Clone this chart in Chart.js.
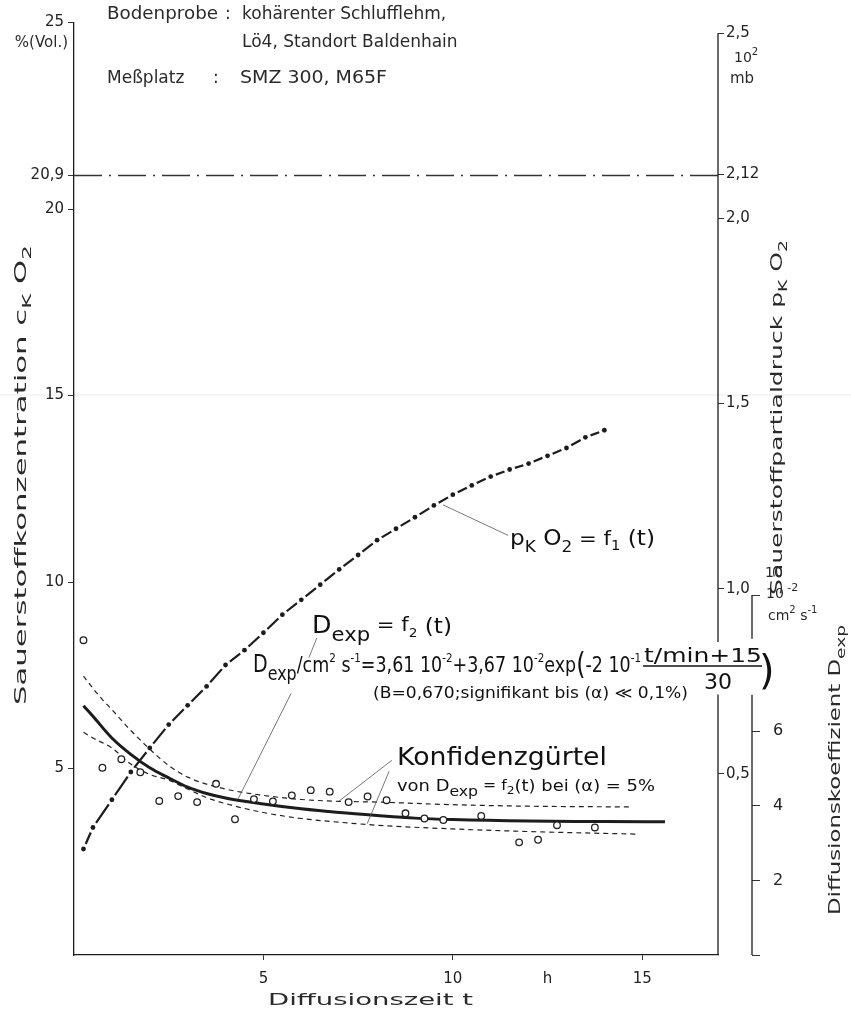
<!DOCTYPE html>
<html>
<head>
<meta charset="utf-8">
<script src="https://cdn.jsdelivr.net/npm/chart.js@4.4.1/dist/chart.umd.min.js"></script>
<style>
html,body{margin:0;padding:0;background:#fff}
</style>
</head>
<body>
<canvas id="grafico" width="851" height="1010"></canvas>
<script>
// Diffusionszeit t in h
const tMin=0, tMax=17;
// Sauerstoffpartialdruck pK O2 (10^2 mb)
const zeitP=[0.25,0.5,1,1.5,2,2.5,3,3.5,4,4.5,5,5.5,6,6.5,7,7.5,8,8.5,9,9.5,10,10.5,11,11.5,12,12.5,13,13.5,14];
const druckP=[0.297,0.355,0.430,0.505,0.570,0.633,0.685,0.736,0.794,0.834,0.881,0.930,0.970,1.011,1.052,1.091,1.131,1.162,1.193,1.225,1.254,1.279,1.303,1.322,1.338,1.359,1.380,1.409,1.428];
// Diffusionskoeffizient Dexp, Messwerte (10^-2 cm2 s-1)
const zeitD=[0.25,0.75,1.25,1.75,2.25,2.75,3.25,3.75,4.25,4.75,5.25,5.75,6.25,6.75,7.25,7.75,8.25,8.75,9.25,9.75,10.75,11.75,12.25,12.75,13.75];
const diffD=[8.44,5.02,5.25,4.90,4.13,4.26,4.10,4.59,3.64,4.18,4.12,4.28,4.42,4.38,4.10,4.25,4.15,3.80,3.66,3.62,3.73,3.02,3.09,3.48,3.42];
// Ausgleichskurve Dexp = f2(t)
const zeitFit=[0.25,0.5,1,1.5,2,2.5,3,3.5,4,5,6,7,8,9,10,12,14,15.6];
const diffFit=[6.68,6.40,5.82,5.38,5.02,4.75,4.50,4.33,4.21,4.05,3.92,3.82,3.74,3.67,3.63,3.59,3.58,3.57];
// Konfidenzguertel
const zeitOben=[0.25,0.5,0.75,1,1.5,2,2.5,3,4,5,6,7,8,10,12,14.7];
const diffOben=[7.48,7.15,6.85,6.58,6.02,5.52,5.08,4.77,4.45,4.28,4.17,4.12,4.10,4.03,3.99,3.97];
const zeitUnten=[0.25,0.5,1,1.5,2,2.5,3,3.5,4,5,6,7,8,10,12,14.9];
const diffUnten=[5.97,5.82,5.55,5.12,4.84,4.69,4.45,4.22,4.06,3.82,3.66,3.56,3.48,3.38,3.31,3.24];
// Luftsauerstoff
const o2Luft=20.9;
// Achsen
const ticksC=[5,10,15,20,20.9,25];
const ticksP=[0.5,1.0,1.5,2.0,2.12,2.5];
const ticksD=[0,2,4,6,9.65];
const ticksT=[5,10,12.5,15];

const fuente='"DejaVu Sans", sans-serif';
const tinta='#1c1c1c';

function puntos(xs,ys){ return xs.map((x,i)=>({x:x,y:ys[i]})); }
function coma(v){ return String(v).replace('.',','); }

// Strich zwischen zwei Punkten (Strich-Punkt-Linie)
const luecke=5.5;
function largo(c){ return Math.hypot(c.p1.x-c.p0.x, c.p1.y-c.p0.y); }
const strichPunkt={
  borderDash: c=>[Math.max(largo(c)-2*luecke,1),1000],
  borderDashOffset: c=>Math.max(largo(c)-2*luecke,1)+1000-luecke+c.p0DataIndex*1e-6
};

// Text mit Indizes; partes: [text, groesse, dy]
function rico(ctx,x,y,partes,ancho,rot){
  ctx.save();
  ctx.translate(x,y);
  if(rot) ctx.rotate(-Math.PI/2);
  let total=0;
  partes.forEach(p=>{ ctx.font=p[1]+'px '+fuente; total+=ctx.measureText(p[0]).width; });
  if(ancho) ctx.scale(ancho/total,1);
  let cx=0;
  partes.forEach(p=>{
    ctx.font=p[1]+'px '+fuente;
    ctx.fillText(p[0],cx,p[2]||0);
    cx+=ctx.measureText(p[0]).width;
  });
  ctx.restore();
}

const beschriftung={
  id:'beschriftung',
  beforeDraw(chart){
    const ctx=chart.ctx;
    ctx.save();
    ctx.fillStyle='#fff';
    ctx.fillRect(0,0,chart.width,chart.height);
    ctx.restore();
  },
  afterDraw(chart){
    const ctx=chart.ctx, sx=chart.scales.x, sy=chart.scales.y, sp=chart.scales.yP, sd=chart.scales.yD;
    const X=v=>sx.getPixelForValue(v), Y=v=>sy.getPixelForValue(v);
    ctx.save();
    ctx.strokeStyle=tinta; ctx.fillStyle=tinta;
    ctx.textBaseline='alphabetic'; ctx.textAlign='left';

    // Achsenlinien rechts
    ctx.lineWidth=1.3;
    const xp=sp.left, xd=sd.left;
    ctx.beginPath();
    ctx.moveTo(xp,sp.getPixelForValue(2.5)); ctx.lineTo(xp,sp.getPixelForValue(0.856));
    ctx.moveTo(xp,sp.getPixelForValue(0.714)); ctx.lineTo(xp,chart.chartArea.bottom);
    ctx.moveTo(xd,sd.getPixelForValue(9.65)); ctx.lineTo(xd,sd.getPixelForValue(8.48));
    ctx.moveTo(xd,sd.getPixelForValue(6.98)); ctx.lineTo(xd,sd.getPixelForValue(0));
    ctx.stroke();

    // Hinweislinien
    ctx.lineWidth=0.8; ctx.strokeStyle='#555';
    const hin=[[9.74,12.07,11.46,11.25],[6.41,8.50,6.20,7.97],[5.73,7.01,4.33,4.18],[8.39,5.22,7.0,4.13],[8.32,4.93,7.74,3.52]];
    hin.forEach(h=>{ ctx.beginPath(); ctx.moveTo(X(h[0]),Y(h[1])); ctx.lineTo(X(h[2]),Y(h[3])); ctx.stroke(); });

    // Kopf
    ctx.fillStyle='#2a2a2a';
    rico(ctx,107,19,[['Bodenprobe',17]],111);
    rico(ctx,225,19,[[':',17]]);
    rico(ctx,242,19,[['kohärenter Schlufflehm,',17]]);
    rico(ctx,242,47,[['Lö4, Standort Baldenhain',17]]);
    rico(ctx,107,83,[['Meßplatz',17]]);
    rico(ctx,213,83,[[':',17]]);
    rico(ctx,240,83,[['SMZ 300, M65F',17]],147);

    // Einheiten
    ctx.textAlign='right';
    ctx.font='15px '+fuente;
    ctx.fillText('%(Vol.)',68,47);
    ctx.textAlign='left';
    rico(ctx,734,62,[['10',14],['2',10,-7]]);
    rico(ctx,730,83,[['mb',15]]);
    rico(ctx,765,577,[['10',14]]);
    rico(ctx,766,598,[['10',14],[' -2',11,-7]]);
    rico(ctx,768,620,[['cm',14],['2',10,-7],[' s',14],['-1',10,-7]]);

    // Achsentitel
    rico(ctx,26,705,[['Sauerstoffkonzentration c',16],['K',12,5],[' O',16],['2',12,5]],460,true);
    rico(ctx,782,595,[['Sauerstoffpartialdruck p',16],['K',12,5],[' O',16],['2',12,5]],355,true);
    rico(ctx,840,915,[['Diffusionskoeffizient D',16],['exp',13,5]],290,true);
    rico(ctx,268,1005,[['Diffusionszeit t',16]],205);

    // Kurvenbeschriftung
    ctx.fillStyle='#111';
    rico(ctx,510,545,[['p',22],['K',16,7],[' O',22],['2',16,7],[' = f',20],['1',14,5],[' (t)',22]],145);
    rico(ctx,312,633,[['D',24],['exp',20,8],[' = f',20,-2],['2',13,4],[' (t)',22]],140);
    rico(ctx,253,672,[['D',24],['exp',20,8],['/cm',22],['2',13,-10],[' s',22],['-1',13,-10],['=3,61 10',22],['-2',13,-10],['+3,67 10',22],['-2',13,-10],['exp',22],['(',30,2],['-2 10',22],['-1',13,-10]],388);
    rico(ctx,644,662,[['t/min+15',20]],118);
    ctx.lineWidth=1.5; ctx.strokeStyle='#111';
    ctx.beginPath(); ctx.moveTo(643,666); ctx.lineTo(762,666); ctx.stroke();
    rico(ctx,704,689,[['30',22]],28);
    rico(ctx,759,684,[[')',40]]);
    rico(ctx,373,698,[['(B=0,670;signifikant bis (α) ≪ 0,1%)',15]],315);
    rico(ctx,397,765,[['Konfidenzgürtel',25]],210);
    rico(ctx,397,791,[['von D',16],['exp',14,5],[' = f',14,-1],['2',11,3],['(t) bei (α) = 5%',16]],258);

    // Falz im Papier
    ctx.strokeStyle='rgba(0,0,0,0.08)'; ctx.lineWidth=1;
    ctx.beginPath(); ctx.moveTo(0,395); ctx.lineTo(chart.width,395); ctx.stroke();
    ctx.restore();
  }
};

const schrift={family:fuente,size:15};
const grafico=new Chart(document.getElementById('grafico'),{
  type:'line',
  data:{datasets:[
    {label:'Dexp Messwerte',data:puntos(zeitD,diffD),yAxisID:'yD',showLine:false,
      pointRadius:3.3,pointBorderWidth:1.3,pointBorderColor:'#222',pointBackgroundColor:'#fff'},
    {label:'Dexp = f2(t)',data:puntos(zeitFit,diffFit),yAxisID:'yD',borderColor:tinta,borderWidth:3,
      pointRadius:0,cubicInterpolationMode:'monotone'},
    {label:'Konfidenz oben',data:puntos(zeitOben,diffOben),yAxisID:'yD',borderColor:'#222',borderWidth:1.2,
      borderDash:[5,4],pointRadius:0,cubicInterpolationMode:'monotone'},
    {label:'Konfidenz unten',data:puntos(zeitUnten,diffUnten),yAxisID:'yD',borderColor:'#222',borderWidth:1.2,
      borderDash:[5,4],pointRadius:0,cubicInterpolationMode:'monotone'},
    {label:'pK O2 = f1(t)',data:puntos(zeitP,druckP),yAxisID:'yP',borderColor:tinta,borderWidth:2.2,
      pointRadius:2.4,pointBorderWidth:0,pointBackgroundColor:tinta,segment:strichPunkt},
    {label:'Luft',data:[{x:tMin,y:o2Luft},{x:tMax,y:o2Luft}],yAxisID:'y',borderColor:'#333',borderWidth:1.3,
      borderDash:[28,7,2,7],pointRadius:0}
  ]},
  options:{
    responsive:false,
    animation:false,
    devicePixelRatio:1,
    layout:{padding:{top:17,left:0,right:0,bottom:0}},
    plugins:{legend:{display:false},tooltip:{enabled:false}},
    scales:{
      x:{type:'linear',min:tMin,max:tMax,
        afterFit:s=>{s.height=55},
        afterBuildTicks:s=>{s.ticks=ticksT.map(v=>({value:v}))},
        grid:{drawOnChartArea:false,tickLength:5,tickColor:c=>(c.tick&&c.tick.value===12.5)?'rgba(0,0,0,0)':'#333'},
        border:{color:tinta,width:1.3},
        ticks:{font:schrift,color:'#222',padding:10,autoSkip:false,maxRotation:0,callback:v=>v===12.5?'h':String(v)}},
      y:{type:'linear',position:'left',min:0,max:25,
        afterFit:s=>{s.width=74},
        afterBuildTicks:s=>{s.ticks=ticksC.map(v=>({value:v}))},
        grid:{drawOnChartArea:false,tickLength:6,tickColor:'#333'},
        border:{color:tinta,width:1.3},
        ticks:{font:schrift,color:'#222',padding:4,autoSkip:false,callback:v=>coma(v)}},
      yP:{type:'linear',position:'right',min:0.0107,max:2.529,weight:1,
        afterFit:s=>{s.width=34; s._computeLabelArea=()=>undefined;},
        afterBuildTicks:s=>{s.ticks=ticksP.map(v=>({value:v}))},
        grid:{drawOnChartArea:false,tickLength:6,tickColor:'#333'},
        border:{display:false},
        ticks:{font:schrift,color:'#222',padding:2,autoSkip:false,callback:v=>v===2.12?'2,12':v.toFixed(1).replace('.',',')}},
      yD:{type:'linear',position:'right',min:0,max:25,weight:2,
        afterFit:s=>{s.width=99},
        afterBuildTicks:s=>{s.ticks=ticksD.map(v=>({value:v}))},
        grid:{drawOnChartArea:false,tickLength:8,tickColor:'#333'},
        border:{display:false},
        ticks:{font:{family:fuente,size:16},color:'#222',padding:13,autoSkip:false,callback:v=>(v===0||v>9)?'':String(v)}}
    }
  },
  plugins:[beschriftung]
});
</script>
</body>
</html>
